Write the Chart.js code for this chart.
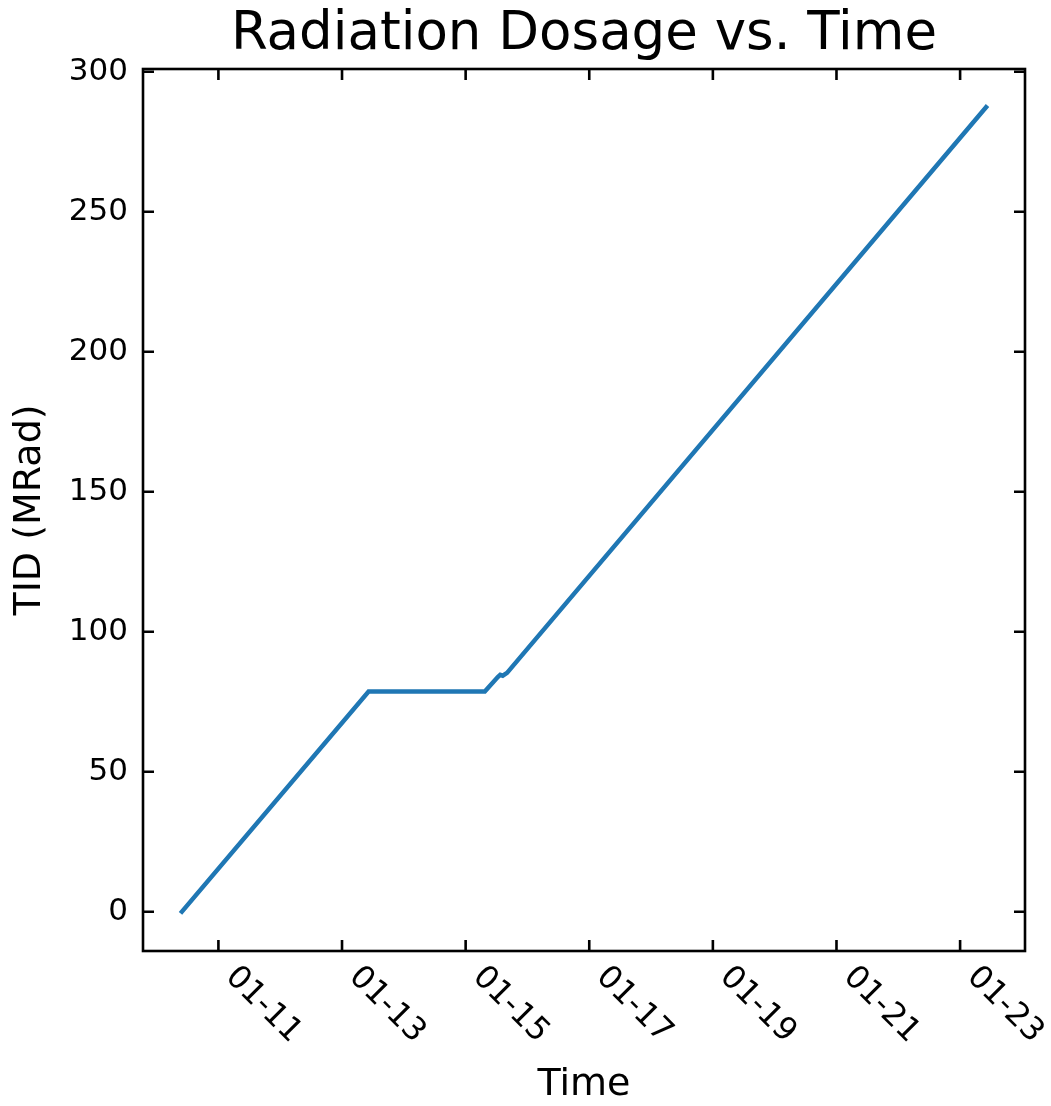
<!DOCTYPE html>
<html>
<head>
<meta charset="utf-8">
<script src="https://cdn.jsdelivr.net/npm/chart.js@4.4.0/dist/chart.umd.min.js"></script>
<style>
  body { margin: 0; background: #fff; }
  canvas { display: block; }
</style>
</head>
<body>
<canvas id="doseChart" width="1051" height="1106"></canvas>
<script>
// day of January (fractional) and total ionizing dose
const days = [10.41, 13.43, 15.31, 15.52, 15.56, 15.60, 15.67, 23.42];
const tid = [0, 78.6, 78.6, 83.8, 84.6, 84.3, 85.3, 287.3];

const xTicks = [11, 13, 15, 17, 19, 21, 23];
const xTickLabels = ['01-11', '01-13', '01-15', '01-17', '01-19', '01-21', '01-23'];
const yTicks = [0, 50, 100, 150, 200, 250, 300];

const fam = '"DejaVu Sans", sans-serif';

// matplotlib-ish box: spines, inward ticks on all sides, rotated date labels
const frame = {
  id: 'frame',
  afterDraw(chart) {
    const ctx = chart.ctx;
    const a = chart.chartArea;
    const xs = chart.scales.x, ys = chart.scales.y;
    ctx.save();
    ctx.strokeStyle = '#000';
    ctx.lineWidth = 2.6;
    ctx.strokeRect(a.left, a.top, a.right - a.left, a.bottom - a.top);
    ctx.beginPath();
    xs.ticks.forEach(t => {
      const px = xs.getPixelForValue(t.value);
      ctx.moveTo(px, a.bottom); ctx.lineTo(px, a.bottom - 11);
      ctx.moveTo(px, a.top); ctx.lineTo(px, a.top + 11);
    });
    ys.ticks.forEach(t => {
      const py = ys.getPixelForValue(t.value);
      ctx.moveTo(a.left, py); ctx.lineTo(a.left + 11, py);
      ctx.moveTo(a.right, py); ctx.lineTo(a.right - 11, py);
    });
    ctx.stroke();

    ctx.fillStyle = '#000';
    ctx.font = '32px ' + fam;
    ctx.textAlign = 'left';
    ctx.textBaseline = 'alphabetic';
    xs.ticks.forEach((t, i) => {
      const px = xs.getPixelForValue(t.value);
      ctx.save();
      ctx.translate(px + 6, a.bottom + 27);
      ctx.rotate(Math.PI / 4);
      ctx.fillText(xTickLabels[i], 0, 0);
      ctx.restore();
    });
    ctx.restore();
  }
};

new Chart(document.getElementById('doseChart'), {
  type: 'line',
  data: {
    datasets: [{
      data: days.map((d, i) => ({x: d, y: tid[i]})),
      borderColor: '#1f77b4',
      borderWidth: 4.5,
      pointRadius: 0,
      tension: 0,
      fill: false,
      borderCapStyle: 'square'
    }]
  },
  options: {
    responsive: false,
    animation: false,
    devicePixelRatio: 1,
    layout: {
      padding: {top: 0, right: 26, bottom: 0, left: 0}
    },
    plugins: {
      legend: { display: false },
      tooltip: { enabled: false },
      title: {
        display: true,
        text: 'Radiation Dosage vs. Time',
        fullSize: false,
        color: '#000',
        font: { family: fam, size: 53, weight: 'normal', lineHeight: 1.2 },
        padding: { top: 3, bottom: 2.4 }
      }
    },
    scales: {
      x: {
        type: 'linear',
        min: 9.78,
        max: 24.05,
        afterBuildTicks: s => { s.ticks = xTicks.map(v => ({value: v})); },
        afterFit: s => { s.height = 155; },
        grid: { display: false, drawTicks: false },
        border: { display: false },
        ticks: { display: false },
        title: {
          display: true,
          text: 'Time',
          color: '#000',
          font: { family: fam, size: 38, lineHeight: 1.1 },
          padding: { top: 0, bottom: 0 }
        }
      },
      y: {
        type: 'linear',
        min: -14.04,
        max: 300.96,
        afterBuildTicks: s => { s.ticks = yTicks.map(v => ({value: v})); },
        afterFit: s => { s.width = 143; },
        grid: { display: false, drawTicks: false },
        border: { display: false },
        ticks: {
          color: '#000',
          padding: 15,
          font: { family: fam, size: 31 }
        },
        title: {
          display: true,
          text: 'TID (MRad)',
          color: '#000',
          font: { family: fam, size: 38 },
          padding: { top: 7, bottom: 0 }
        }
      }
    }
  },
  plugins: [frame]
});
</script>
</body>
</html>
